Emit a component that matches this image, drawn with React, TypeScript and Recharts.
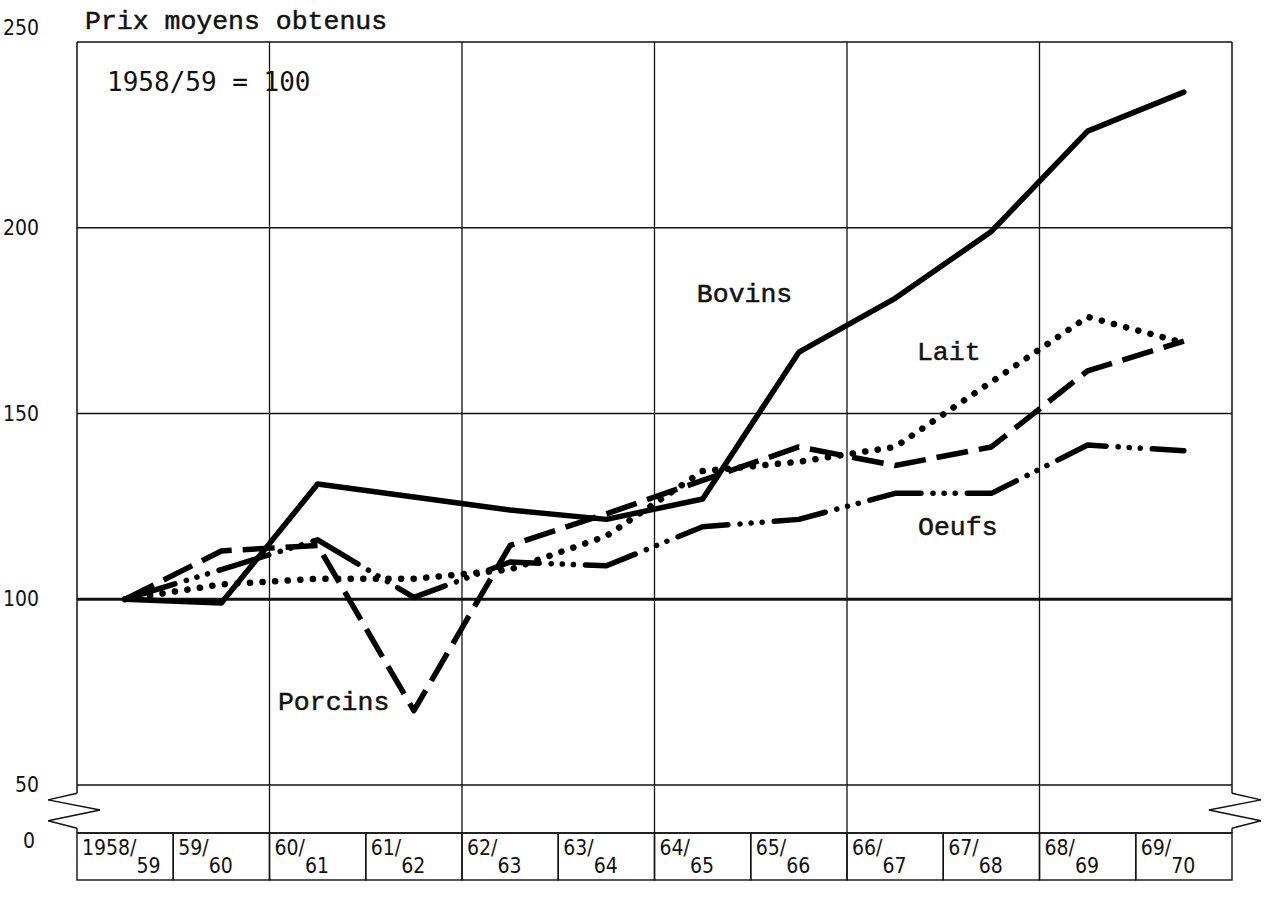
import React from 'react';
import { LineChart, Line, XAxis, YAxis, ReferenceLine, ReferenceDot } from 'recharts';

// ---- data ----
const categories = ['1958/59', '59/60', '60/61', '61/62', '62/63', '63/64', '64/65', '65/66', '66/67', '67/68', '68/69', '69/70'];
const bovins = [100, 99, 131, 127.5, 124, 121.5, 127, 166.5, 181, 199, 226, 236.5];
const lait = [100, 104, 105.5, 105.5, 108, 117, 134.5, 137, 141, 158.5, 176, 169];
const porcins = [100, 113, 114.5, 70, 114.5, 123, 132, 141, 136, 141, 161.5, 169.5];
const oeufs = [100, 108, 116, 100.5, 110, 109, 119.5, 121.5, 128.5, 128.5, 141.5, 140];
const yTickValues = [50, 100, 150, 200, 250];
const BREAK_FLOOR = 37.08; // where the "0" of the broken axis sits
const Y_MAX = 250;

const data = categories.map((c, i) => ({
  x: i + 0.5,
  label: c,
  bovins: bovins[i],
  lait: lait[i],
  porcins: porcins[i],
  oeufs: oeufs[i],
}));

// ---- layout ----
const W = 1264;
const H = 897;
const M = { top: 42, right: 32, bottom: 14, left: 17 };
const Y_AXIS_W = 60;
const X_AXIS_H = 50;
const PLOT_W = W - M.left - M.right - Y_AXIS_W;
const PLOT_BOTTOM = H - M.bottom - X_AXIS_H;
const BAND = PLOT_W / categories.length;
const BOX_H = 47;

const INK = '#111';
const TYPE_FONT = "'Liberation Mono', 'Courier New', monospace";
const NUM_FONT = "'DejaVu Sans Condensed', 'DejaVu Sans', sans-serif";
const MONO_NUM_FONT = "'DejaVu Sans Mono', monospace";

const YTick = (props: any) => {
  const { y, payload } = props;
  const v = payload.value;
  const label = v === BREAK_FLOOR ? '0' : String(v);
  const dy = v === Y_MAX ? -14 : v === BREAK_FLOOR ? 8 : 0;
  const dx = v === BREAK_FLOOR ? -4 : 0;
  return (
    <text x={M.left + 22 + dx} y={y + dy} textAnchor="end" dominantBaseline="central"
      fontFamily={NUM_FONT} fontWeight={200} fontSize={21} fill={INK}>
      {label}
    </text>
  );
};

const XTick = (props: any) => {
  const { x, payload } = props;
  const i = Math.floor(payload.value);
  const [num, den] = categories[i].split('/');
  const left = x - BAND / 2;
  return (
    <g>
      <rect x={left} y={PLOT_BOTTOM} width={BAND} height={BOX_H} fill="none" stroke={INK} strokeWidth={1.4} />
      <text x={left + 5} y={PLOT_BOTTOM + 22} fontFamily={NUM_FONT} fontWeight={200} fontSize={21} fill={INK}>
        <tspan>{num}/</tspan>
        <tspan dy={18}>{den}</tspan>
      </text>
    </g>
  );
};

const zigLeft = [
  { x: 0, y: Y_MAX },
  { x: 0, y: 47.77 },
  { x: -0.3, y: 46.0 },
  { x: 0.24, y: 43.3 },
  { x: -0.3, y: 40.4 },
  { x: 0, y: 38.35 },
  { x: 0, y: BREAK_FLOOR },
];
const zigRight = zigLeft.map((p) => ({ x: categories.length - p.x, y: p.y }));

const annotations = [
  { text: 'Prix moyens obtenus', x: 0.083, y: 253.6, font: TYPE_FONT, size: 26.5, bold: true },
  { text: '1958/59 = 100', x: 0.312, y: 236.8, font: MONO_NUM_FONT, size: 26, bold: false },
  { text: 'Bovins', x: 6.44, y: 180, font: TYPE_FONT, size: 26.5, bold: true },
  { text: 'Lait', x: 8.727, y: 164.4, font: TYPE_FONT, size: 26.5, bold: true },
  { text: 'Oeufs', x: 8.738, y: 117.25, font: TYPE_FONT, size: 26.5, bold: true },
  { text: 'Porcins', x: 2.088, y: 70.2, font: TYPE_FONT, size: 26.5, bold: true },
];

export default function App() {
  const segs = (pts: { x: number; y: number }[], key: string) =>
    pts.slice(1).map((p, i) => (
      <ReferenceLine key={key + i} segment={[pts[i], p]} stroke={INK} strokeWidth={1.5} ifOverflow="visible" />
    ));
  return (
    <div style={{ position: 'absolute', left: 0, top: 0, width: W, height: H, background: '#fff' }}>
      <LineChart width={W} height={H} data={data} margin={M}>
        <XAxis
          type="number"
          dataKey="x"
          domain={[0, categories.length]}
          ticks={data.map((d) => d.x)}
          interval={0}
          axisLine={false}
          tickLine={false}
          height={X_AXIS_H}
          tick={<XTick />}
        />
        <YAxis
          type="number"
          domain={[BREAK_FLOOR, Y_MAX]}
          ticks={[BREAK_FLOOR, ...yTickValues]}
          interval={0}
          allowDataOverflow
          axisLine={false}
          tickLine={false}
          width={Y_AXIS_W}
          tick={<YTick />}
        />
        {[50, 150, 200].map((v) => (
          <ReferenceLine key={'h' + v} y={v} stroke={INK} strokeWidth={1.3} />
        ))}
        <ReferenceLine y={100} stroke={INK} strokeWidth={2.8} />
        <ReferenceLine y={Y_MAX} stroke={INK} strokeWidth={1.5} />
        <ReferenceLine y={BREAK_FLOOR} stroke={INK} strokeWidth={1.5} />
        {[2, 4, 6, 8, 10].map((v) => (
          <ReferenceLine key={'v' + v} x={v} stroke={INK} strokeWidth={1.3} />
        ))}
        {segs(zigLeft, 'zl')}
        {segs(zigRight, 'zr')}
        <Line type="linear" dataKey="bovins" stroke="#000" strokeWidth={5.5} dot={false}
          strokeLinejoin="round" strokeLinecap="round" isAnimationActive={false} />
        <Line type="linear" dataKey="porcins" stroke="#000" strokeWidth={5.5} dot={false}
          strokeDasharray="32 11" strokeLinejoin="round" isAnimationActive={false} />
        <Line type="linear" dataKey="lait" stroke="#000" strokeWidth={6.5} dot={false}
          strokeDasharray="0.1 12.5" strokeLinecap="round" isAnimationActive={false} />
        <Line type="linear" dataKey="oeufs" stroke="#000" strokeWidth={5.5} dot={false}
          strokeDasharray="52 12 0.1 11 0.1 11 0.1 12" strokeLinecap="round" strokeLinejoin="round"
          isAnimationActive={false} />
        {annotations.map((a) => (
          <ReferenceDot
            key={a.text}
            x={a.x}
            y={a.y}
            r={1}
            ifOverflow="visible"
            shape={(p: any) => (
              <text x={p.cx} y={p.cy} fontFamily={a.font} fontSize={a.size} fill={INK}
                stroke={a.bold ? INK : 'none'} strokeWidth={a.bold ? 0.5 : 0}>
                {a.text}
              </text>
            )}
          />
        ))}
      </LineChart>
    </div>
  );
}
